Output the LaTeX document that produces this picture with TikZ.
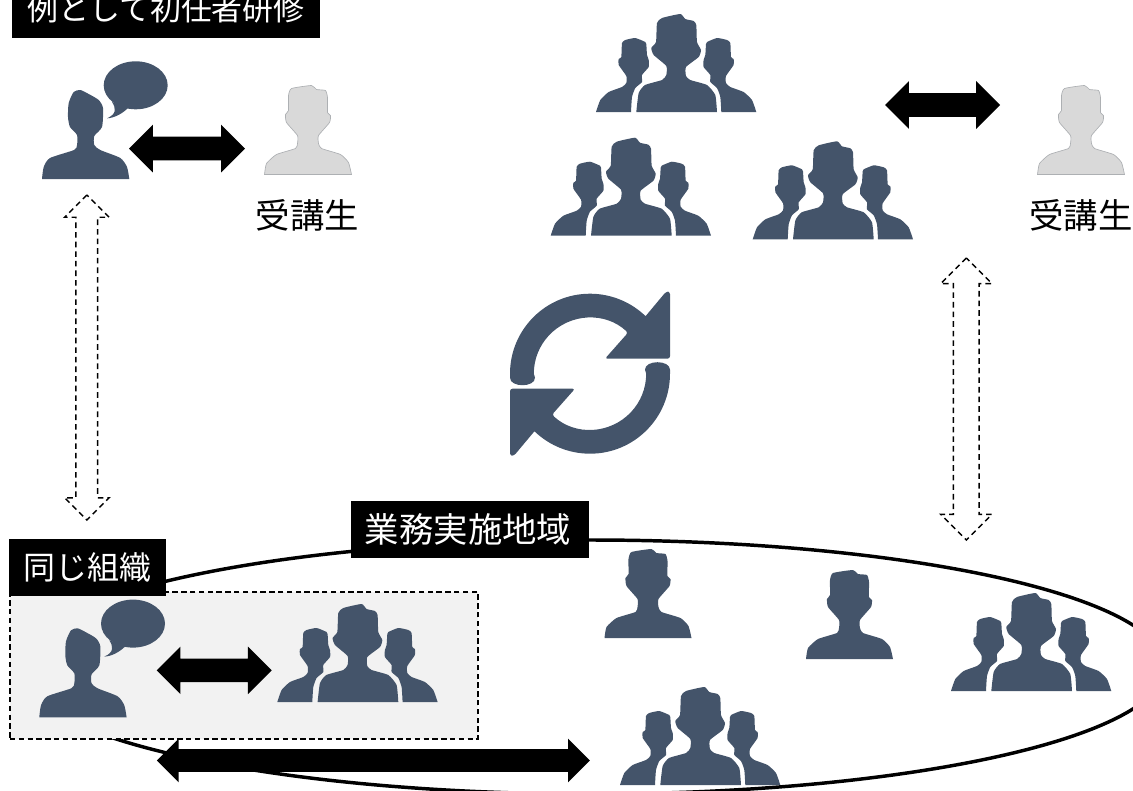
\documentclass[tikz,border=0pt]{standalone}
\usepackage{fontspec}
\newfontfamily\jp{Noto Sans CJK JP}
\usetikzlibrary{shapes.geometric,shapes.arrows}
\definecolor{iconblue}{HTML}{44546A}
\definecolor{icongray}{HTML}{D9D9D9}
\definecolor{iconline}{HTML}{ADB0B3}
\definecolor{panel}{HTML}{F2F2F2}
\newcommand{\shaft}[1]{\rule{0pt}{#1}}
\tikzset{
  x=0.75pt,y=-0.75pt,
  man/.pic={\path[pic actions] plot[smooth,tension=.3] coordinates {(0,89)(2,78)(12,69)(31,63)(33,58)(33,50)(22,37)(21,29)(24,25)(24,10)(27,3)(47,0)(52,4)(61,5)(63,12)(63,27)(66,30)(65,37)(54,50)(54,58)(57,63)(76,69)(84,77)(87,89)} -- cycle;},
  speaker/.pic={\path[pic actions] plot[smooth,tension=.4] coordinates {(0,89)(1.7,77)(8,68)(32,60)(35,55)(35,45)(28,37)(26,27)(26.7,13)(31.7,2)(38.3,0)(46.7,4)(56.7,10)(61,18)(60,37)(52.3,46)(52.3,55)(58.3,60)(78.3,68)(85,77)(87.3,89)} -- cycle;
    \path[pic actions] (93.7,-4.7) ellipse [x radius=32,y radius=24];
    \path[pic actions] (70,12) .. controls (74,18) and (75,24) .. (65,28.3) .. controls (72,28) and (80,24) .. (86,18) -- cycle;},
  crowd/.pic={
    \path[pic actions] plot[smooth,tension=.3] coordinates {(40.3,98)(42.7,79)(49,71)(66,66)(70.3,61)(70.3,52)(57.7,41)(55.3,34)(60,28)(61,9)(66,4)(84.3,0)(89.3,5)(97.7,7)(100.3,11)(101,28)(105,36)(102.7,43)(90,53)(90,62)(94.3,66)(111,71)(119.3,81)(121,98)} -- cycle;
    \foreach \mir/\off in {1/0,-1/160.3}{
      \begin{scope}[xshift=\off*0.75pt,xscale=\mir]
        \path[pic actions] plot[smooth,tension=.3] coordinates {(0,98)(4.3,86)(12.7,78)(26,73)(30.3,69)(30.3,62)(22.7,51)(22.7,45)(25.3,43)(26,29)(29.3,26)(39.3,24)(49.3,28)(50.3,30)(51,41)(52.7,46)(52.7,53)(46,61)(46,68)(39.3,74)(36,83)(35,98)} -- cycle;
      \end{scope}}
  },
  cyclearrow/.pic={\path[pic actions] (-80,0) arc[start angle=180,end angle=314,radius=80] [rounded corners=1.9pt] -- (76,-82) -- (80,-82) -- (80,-15) -- (15,-15) -- (38,-41) [sharp corners] arc[start angle=313,end angle=180,radius=56] -- (-55,4) .. controls (-55,14) and (-80,14) .. (-80,4) -- cycle;},
  blackbox/.style={fill=black,text=white,inner sep=0pt,font=\jp},
  plaintext/.style={text=black,inner sep=0pt,font=\jp\fontsize{25.8}{28}\selectfont},
  solidarrow/.style={double arrow,fill=black,inner sep=0pt,minimum width=35.25pt,double arrow head extend=9pt},
  ghostarrow/.style={double arrow,draw=black,fill=white,inner sep=0pt,line width=1.1pt,dash pattern=on 4.2pt off 3pt},
  blueicon/.style={fill=iconblue},
  grayicon/.style={fill=icongray,draw=iconline,line width=.5pt},
}
\begin{document}
\begin{tikzpicture}
\useasboundingbox (0,0) rectangle (1133,790);
\clip (0,0) rectangle (1133,790);
% region outline and panel
\node[ellipse,draw=black,line width=2.6pt,inner sep=0pt,minimum width=862.5pt,minimum height=190.5pt] (region) at (590,667) {};
\node[draw=black,fill=panel,line width=1.1pt,dash pattern=on 4pt off 2.6pt,inner sep=0pt,minimum width=351pt,minimum height=110.25pt] (org) at (244,665.5) {};
% labels
\node[blackbox,minimum width=231pt,minimum height=42.75pt] (lab1) at (166,9) {\fontsize{23.2}{26}\selectfont 例として初任者研修};
\node[blackbox,minimum width=117.75pt,minimum height=42.75pt] (lab2) at (87.5,567.5) {\fontsize{24}{26}\selectfont 同じ組織};
\node[blackbox,minimum width=178.5pt,minimum height=42.75pt] (lab3) at (470,529.5) {\hspace*{-3pt}\fontsize{25.8}{28}\selectfont 業務実施地域};
\node[plaintext] (stu1) at (307.5,215) {受講生};
\node[plaintext] (stu2) at (1081,215) {受講生};
% icons
\pic[blueicon] (t1) at (42,90) {speaker};
\pic[grayicon] (s1) at (264.5,85.5) {man};
\pic[grayicon] (s2) at (1037.5,85.5) {man};
\pic[blueicon] (c1) at (596,14) {crowd};
\pic[blueicon] (c2) at (550.7,137.7) {crowd};
\pic[blueicon] (c3) at (752.7,141.3) {crowd};
\pic[blueicon] (t2) at (39.3,628.3) {speaker};
\pic[blueicon] (c4) at (277.3,604) {crowd};
\pic[blueicon] (m1) at (604.5,549) {man};
\pic[blueicon] (m2) at (806,570) {man};
\pic[blueicon] (c5) at (951,593) {crowd};
\pic[blueicon] (c6) at (620,687) {crowd};
% cycle
\pic[blueicon] (cy1) at (590,373.7) {cyclearrow};
\pic[blueicon,rotate=180] (cy2) at (590,373.7) {cyclearrow};
% solid arrows
\node[solidarrow,minimum height=87pt] (a1) at (187,148.5) {\shaft{17.25pt}};
\node[solidarrow,minimum height=86.25pt] (a2) at (942.5,105) {\shaft{17.25pt}};
\node[solidarrow,minimum height=86.25pt] (a3) at (214.2,670.3) {\shaft{17.25pt}};
\node[solidarrow,minimum height=324.75pt,minimum width=32.25pt,double arrow head extend=7.9pt] (a4) at (373.3,760.5) {\shaft{16.5pt}};
% dashed arrows
\node[ghostarrow,rotate=90,minimum height=243.75pt,minimum width=32.25pt,double arrow head extend=8.5pt] (d1) at (86.8,357.5) {\shaft{15.25pt}};
\node[ghostarrow,rotate=90,minimum height=211.5pt,minimum width=37.5pt,double arrow head extend=9.5pt] (d2) at (966.3,399) {\shaft{18.25pt}};
\end{tikzpicture}
\end{document}
